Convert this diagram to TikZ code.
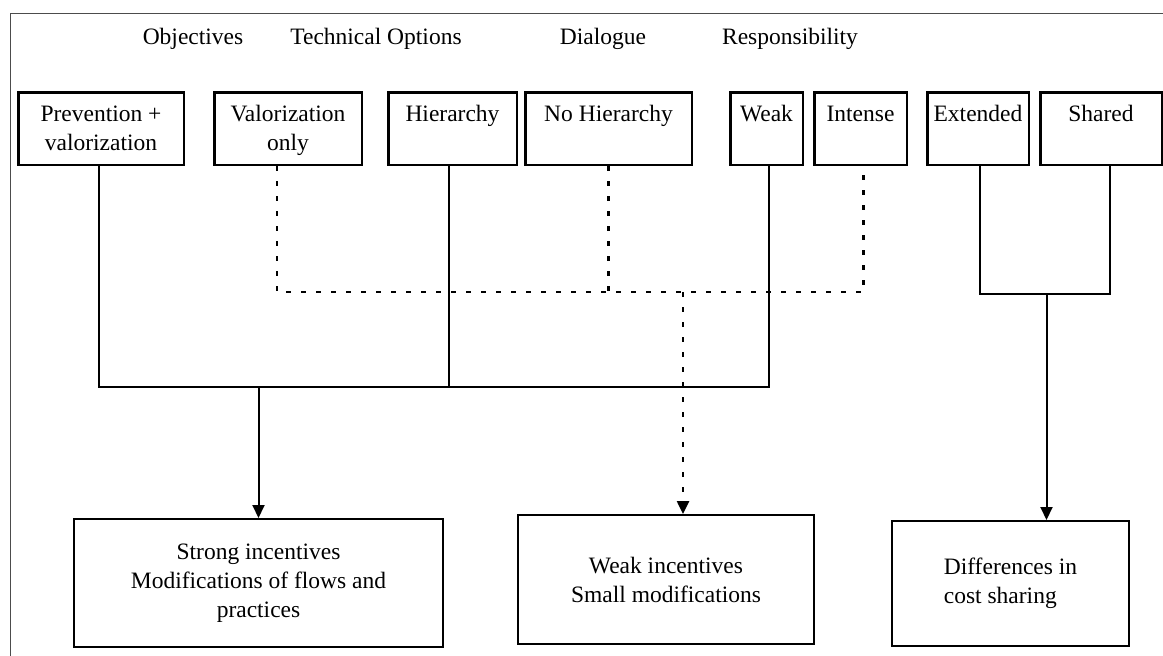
\documentclass[tikz,border=0pt]{standalone}
\usepackage{fontspec}
\setmainfont{Liberation Serif}
\usetikzlibrary{positioning,arrows.meta}

\tikzset{
  optbox/.style={draw, line width=2.5pt, inner sep=0pt, minimum height=72.5pt,
    text height=29pt, text depth=43.5pt, align=center},
  twoline/.style={text height=58pt, text depth=14.5pt},
  endbox/.style={draw, line width=2pt, inner sep=0pt, align=center},
  head/.style={anchor=base},
  link/.style={line width=2pt},
  dotlink/.style={line width=2.5pt, dash pattern=on 5pt off 10pt},
  tip/.style={-{Triangle[width=12pt,length=13pt]}}
}

\begin{document}
\begin{tikzpicture}[x=1pt, y=-1pt, font=\fontsize{23.5}{29}\selectfont]
  \useasboundingbox (0,0) rectangle (1163,656);
  % --- outer frame ---
  \draw[line width=1.2pt, black!70] (10.5,656) |- (1163,13.5);

  % --- column headings ---
  \node[head] (hobj) at (193,44) {Objectives};
  \node[head] (htech) at (376,44) {Technical Options};
  \node[head] (hdial) at (603,44) {Dialogue};
  \node[head] (hresp) at (790,44) {Responsibility};

  % --- option boxes ---
  \node[optbox, twoline, anchor=north west, minimum width=165.5pt] (prev) at (17,91) {Prevention +\\valorization};
  \node[optbox, twoline, minimum width=147.5pt, right=28pt of prev] (valo) {Valorization\\only};
  \node[optbox, minimum width=128.5pt, right=24pt of valo] (hier) {Hierarchy};
  \node[optbox, minimum width=166.5pt, right=6pt of hier] (nohier) {No Hierarchy};
  \node[optbox, minimum width=72.5pt, right=36pt of nohier] (weak) {Weak};
  \node[optbox, minimum width=92.5pt, right=9pt of weak] (intense) {Intense};
  \node[optbox, minimum width=101.5pt, right=18pt of intense] (ext) {Extended};
  \node[optbox, minimum width=121.5pt, right=9pt of ext] (shared) {Shared};

  % --- outcome boxes ---
  \node[endbox, minimum width=369pt, minimum height=128pt] (strong) at (258.5,583) {Strong incentives\\Modifications of flows and\\practices};
  \node[endbox, minimum width=296pt, minimum height=129pt] (weakinc) at (666,579.5) {Weak incentives\\Small modifications};
  \node[endbox, minimum width=237pt, minimum height=125pt, align=left] (diff) at (1010.5,583.5) {Differences in\\cost sharing};

  % --- solid branch ---
  \coordinate (bar) at (0,387);
  \draw[link] ([xshift=-2pt]prev.south) |- ([xshift=2pt]weak.south |- bar) -- ([xshift=2pt]weak.south);
  \draw[link] ([xshift=-4pt]hier.south) -- ([xshift=-4pt]hier.south |- bar);
  \draw[link, tip] (strong.north |- bar) -- (strong.north);

  % --- dotted branch ---
  \coordinate (dotbar) at (0,292);
  \draw[dotlink] ([xshift=-11pt]valo.south) |- ([xshift=3pt]intense.south |- dotbar) -- ([xshift=3pt]intense.south);
  \draw[dotlink] (nohier.south) -- (nohier.south |- dotbar);
  \draw[dotlink, tip] ([xshift=17pt]weakinc.north |- dotbar) -- ([xshift=17pt]weakinc.north);

  % --- responsibility branch ---
  \coordinate (extbar) at (0,294);
  \draw[link] ([xshift=2pt]ext.south) |- ([xshift=9pt]shared.south |- extbar) -- ([xshift=9pt]shared.south);
  \draw[link, tip] ([xshift=36pt]diff.north |- extbar) -- ([xshift=36pt]diff.north);
\end{tikzpicture}
\end{document}
